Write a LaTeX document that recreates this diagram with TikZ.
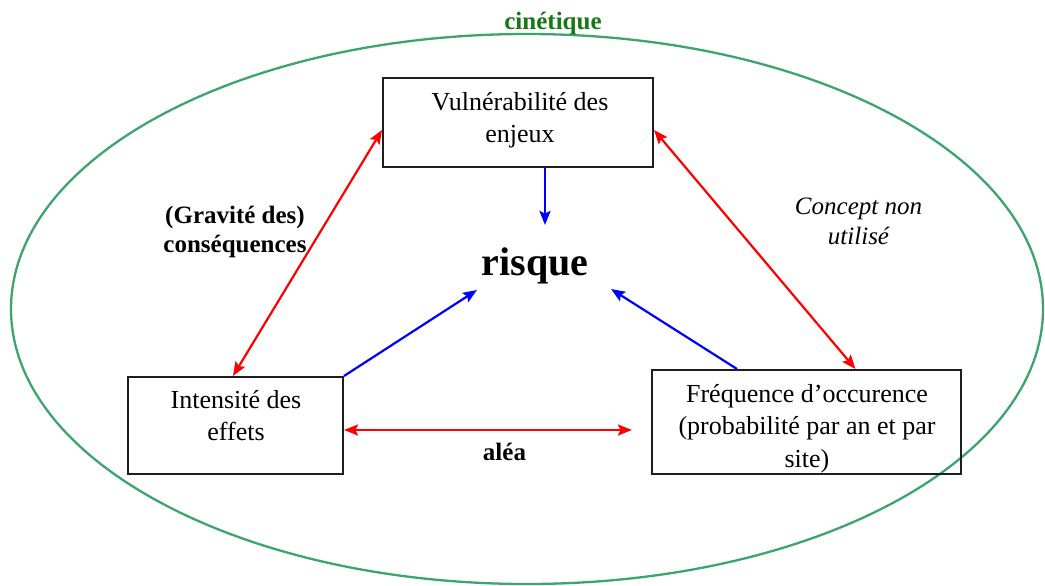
\documentclass[tikz,border=0pt]{standalone}
\usepackage{fontspec}
\setmainfont{Liberation Serif}
\usetikzlibrary{arrows.meta,calc}
\definecolor{ellgreen}{RGB}{60,165,110}
\definecolor{txtgreen}{RGB}{20,120,20}
\definecolor{boxline}{RGB}{30,30,30}
\begin{document}
\begin{tikzpicture}[x=1pt,y=-1pt,
  box/.style={draw=boxline, line width=2pt, inner sep=0pt},
  boxtxt/.style={font=\fontsize{26}{32.5}\selectfont, align=center, inner sep=0pt},
  lbl/.style={font=\fontsize{25}{29}\selectfont\bfseries, align=center, inner sep=0pt},
  redarrow/.style={draw=red, line width=2.2pt, {Stealth[length=14pt,width=11pt,inset=2.5pt]}-{Stealth[length=14pt,width=11pt,inset=2.5pt]}},
  bluearrow/.style={draw=blue, line width=2.2pt, -{Stealth[length=14pt,width=11pt,inset=2.5pt]}}]

\useasboundingbox (0,0) rectangle (1045,586);
\draw[ellgreen, line width=2.3pt] (527,309) ellipse [x radius=516, y radius=275];

\node[box, minimum width=270pt, minimum height=89pt] (vuln) at (518,122.5) {};
\node[box, minimum width=215pt, minimum height=97pt] (int) at (235.5,425.5) {};
\node[box, minimum width=309pt, minimum height=104pt] (freq) at (806.5,422) {};

\node[boxtxt] (vulntxt) at (520,120) {Vulnérabilité des\\enjeux};
\node[boxtxt] (inttxt) at (236,415.5) {Intensité des\\effets};
\node[boxtxt] (freqtxt) at (807,428.5) {Fréquence d’occurence\\(probabilité par an et par\\site)};

\node[lbl, text=txtgreen, anchor=base] (cin) at (553,30) {cinétique};
\node[font=\fontsize{40}{48}\selectfont\bfseries, anchor=base, inner sep=0pt] (risque) at (535,275) {risque};
\node[lbl] (grav) at (235,231.5) {(Gravité des)\\conséquences};
\node[lbl, anchor=base] (alea) at (504.5,460) {aléa};
\node[font=\fontsize{25}{30}\selectfont\itshape, align=center, inner sep=0pt] (concept) at (858.5,221.5) {Concept non\\utilisé};

\coordinate (rtop) at (545,225);
\coordinate (rleft) at (477,290);
\coordinate (rright) at (611,289);
\coordinate (aleaend) at (632,430);

\draw[redarrow] ([yshift=-7.5pt]vuln.west) -- ([xshift=-2.5pt]int.north);
\draw[redarrow] ([yshift=-7.5pt]vuln.east) -- ([xshift=49pt]freq.north);
\draw[redarrow] ([yshift=-4.5pt]int.east) -- (aleaend);
\draw[bluearrow] ([xshift=27pt]vuln.south) -- (rtop);
\draw[bluearrow] (int.north east) -- (rleft);
\draw[bluearrow] ([xshift=-69.5pt]freq.north) -- (rright);
\end{tikzpicture}
\end{document}
